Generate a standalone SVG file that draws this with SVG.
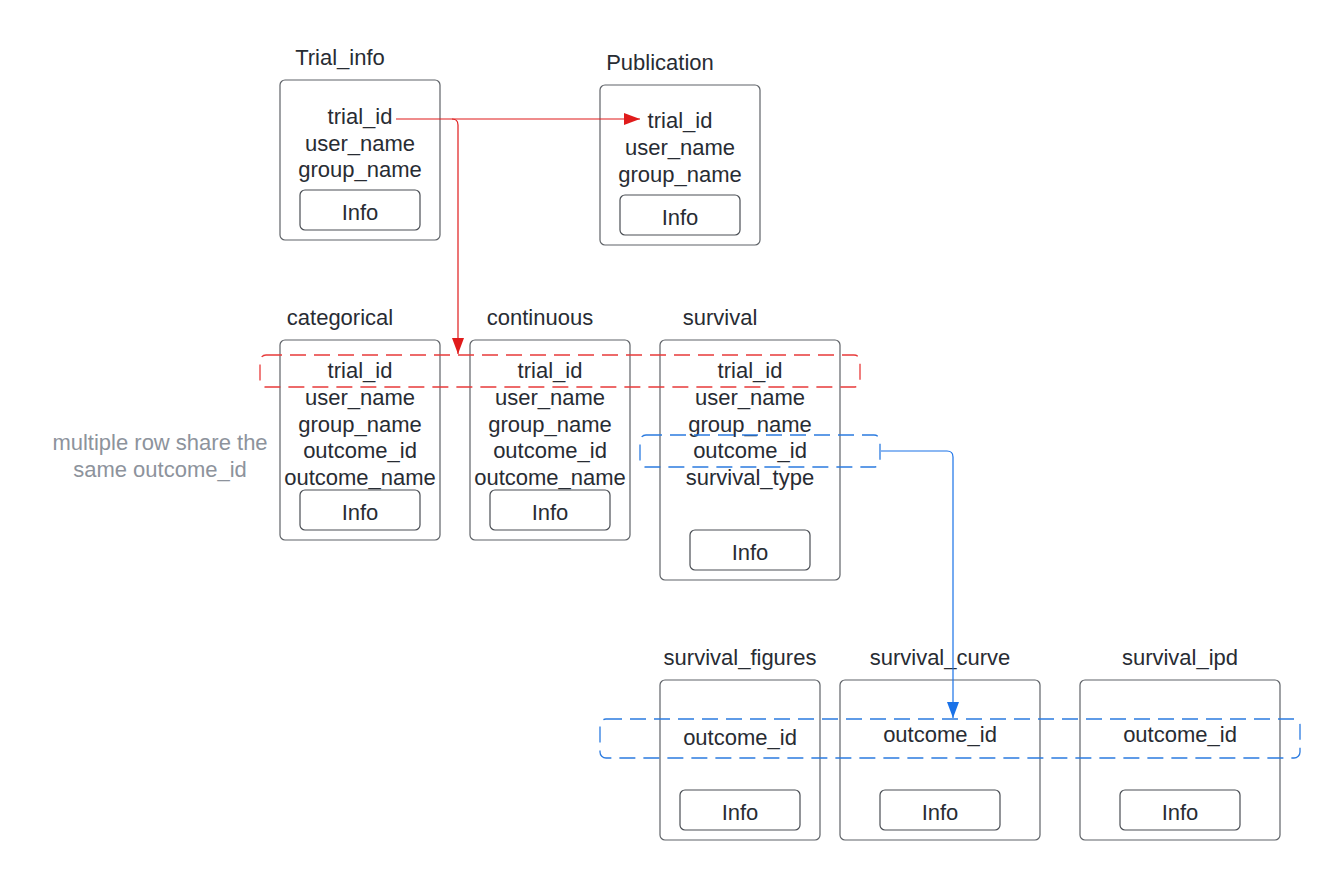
<svg xmlns="http://www.w3.org/2000/svg" width="1340" height="880" viewBox="0 0 1340 880">
  <style>
    text { font-family: "Liberation Sans", Arial, sans-serif; font-size: 22px; fill: #282c33; }
    .c { text-anchor: middle; }
    .note { fill: #8d939c; }
    .box { fill: #ffffff; stroke: #5f6368; stroke-width: 1.2; }
    .info { fill: #ffffff; stroke: #4a4e54; stroke-width: 1.2; }
    .red-dash { fill: none; stroke: #e83a3a; stroke-width: 1.3; stroke-dasharray: 16 8; }
    .blue-dash { fill: none; stroke: #2b7be0; stroke-width: 1.3; stroke-dasharray: 16 8; }
    .red-line { fill: none; stroke: #e01b1b; stroke-width: 1.2; }
    .blue-line { fill: none; stroke: #1a72e8; stroke-width: 1.2; }
  </style>
  <defs>
    <marker id="arrow-red" viewBox="0 0 16 12" refX="16" refY="6" markerWidth="16" markerHeight="12" markerUnits="userSpaceOnUse" orient="auto">
      <path d="M0,0 L16,6 L0,12 Z" fill="#e01b1b"/>
    </marker>
    <marker id="arrow-blue" viewBox="0 0 16 12" refX="16" refY="6" markerWidth="16" markerHeight="12" markerUnits="userSpaceOnUse" orient="auto">
      <path d="M0,0 L16,6 L0,12 Z" fill="#1a72e8"/>
    </marker>
  </defs>

  <rect width="1340" height="880" fill="#ffffff"/>

  <!-- Trial_info -->
  <g id="trial_info">
    <text x="340" y="65" class="c">Trial_info</text>
    <rect class="box" x="280" y="80" width="160" height="160" rx="5"/>
    <text x="360" y="124" class="c">trial_id</text>
    <text x="360" y="151" class="c">user_name</text>
    <text x="360" y="177" class="c">group_name</text>
    <rect class="info" x="300" y="190" width="120" height="40" rx="5"/>
    <text x="360" y="220" class="c">Info</text>
  </g>

  <!-- Publication -->
  <g id="publication">
    <text x="660" y="70" class="c">Publication</text>
    <rect class="box" x="600" y="85" width="160" height="160" rx="5"/>
    <text x="680" y="128" class="c">trial_id</text>
    <text x="680" y="155" class="c">user_name</text>
    <text x="680" y="182" class="c">group_name</text>
    <rect class="info" x="620" y="195" width="120" height="40" rx="5"/>
    <text x="680" y="225" class="c">Info</text>
  </g>

  <!-- categorical -->
  <g id="categorical">
    <text x="340" y="325" class="c">categorical</text>
    <rect class="box" x="280" y="340" width="160" height="200" rx="5"/>
    <text x="360" y="378" class="c">trial_id</text>
    <text x="360" y="405" class="c">user_name</text>
    <text x="360" y="432" class="c">group_name</text>
    <text x="360" y="458" class="c">outcome_id</text>
    <text x="360" y="485" class="c">outcome_name</text>
    <rect class="info" x="300" y="490" width="120" height="40" rx="5"/>
    <text x="360" y="520" class="c">Info</text>
  </g>

  <!-- continuous -->
  <g id="continuous">
    <text x="540" y="325" class="c">continuous</text>
    <rect class="box" x="470" y="340" width="160" height="200" rx="5"/>
    <text x="550" y="378" class="c">trial_id</text>
    <text x="550" y="405" class="c">user_name</text>
    <text x="550" y="432" class="c">group_name</text>
    <text x="550" y="458" class="c">outcome_id</text>
    <text x="550" y="485" class="c">outcome_name</text>
    <rect class="info" x="490" y="490" width="120" height="40" rx="5"/>
    <text x="550" y="520" class="c">Info</text>
  </g>

  <!-- survival -->
  <g id="survival">
    <text x="720" y="325" class="c">survival</text>
    <rect class="box" x="660" y="340" width="180" height="240" rx="5"/>
    <text x="750" y="378" class="c">trial_id</text>
    <text x="750" y="405" class="c">user_name</text>
    <text x="750" y="432" class="c">group_name</text>
    <text x="750" y="458" class="c">outcome_id</text>
    <text x="750" y="485" class="c">survival_type</text>
    <rect class="info" x="690" y="530" width="120" height="40" rx="5"/>
    <text x="750" y="560" class="c">Info</text>
  </g>

  <!-- survival_figures -->
  <g id="survival_figures">
    <text x="740" y="665" class="c">survival_figures</text>
    <rect class="box" x="660" y="680" width="160" height="160" rx="5"/>
    <text x="740" y="745" class="c">outcome_id</text>
    <rect class="info" x="680" y="790" width="120" height="40" rx="5"/>
    <text x="740" y="820" class="c">Info</text>
  </g>

  <!-- survival_curve -->
  <g id="survival_curve">
    <text x="940" y="665" class="c">survival_curve</text>
    <rect class="box" x="840" y="680" width="200" height="160" rx="5"/>
    <text x="940" y="742" class="c">outcome_id</text>
    <rect class="info" x="880" y="790" width="120" height="40" rx="5"/>
    <text x="940" y="820" class="c">Info</text>
  </g>

  <!-- survival_ipd -->
  <g id="survival_ipd">
    <text x="1180" y="665" class="c">survival_ipd</text>
    <rect class="box" x="1080" y="680" width="200" height="160" rx="5"/>
    <text x="1180" y="742" class="c">outcome_id</text>
    <rect class="info" x="1120" y="790" width="120" height="40" rx="5"/>
    <text x="1180" y="820" class="c">Info</text>
  </g>

  <!-- note -->
  <g id="note">
    <text x="160" y="450" class="c note">multiple row share the</text>
    <text x="160" y="477" class="c note">same outcome_id</text>
  </g>

  <!-- key groupings -->
  <g id="groupings">
    <rect class="red-dash" x="260" y="355" width="600" height="32" rx="6"/>
    <rect class="blue-dash" x="640" y="435" width="240" height="32" rx="6"/>
    <rect class="blue-dash" x="600" y="719" width="700" height="39" rx="6"/>
  </g>

  <!-- connectors -->
  <g id="connectors">
    <path class="red-line" d="M396,119 L640,119" marker-end="url(#arrow-red)"/>
    <path class="red-line" d="M452,119 Q458,119 458,125 L458,354" marker-end="url(#arrow-red)"/>
    <path class="blue-line" d="M881,451 L947,451 Q953,451 953,457 L953,718" marker-end="url(#arrow-blue)"/>
  </g>
</svg>
